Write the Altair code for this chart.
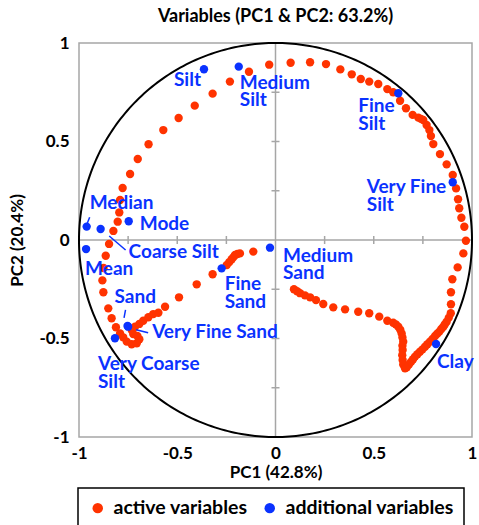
import altair as alt
import numpy as np
import pandas as pd

# Active variables: correlation of each grain-size class with PC1 / PC2
ACTIVE_PC1 = [
    0.094, 0.110, 0.125, 0.150, 0.176, 0.206, 0.243, 0.294, 0.354, 0.421,
    0.477, 0.528, 0.569, 0.599, 0.612, 0.625, 0.635, 0.642, 0.646, 0.650,
    0.646, 0.647, 0.645, 0.647, 0.650, 0.659, 0.668, 0.679, 0.690, 0.700,
    0.710, 0.722, 0.735, 0.748, 0.761, 0.773, 0.786, 0.799, 0.812, 0.823,
    0.834, 0.844, 0.854, 0.862, 0.871, 0.882, 0.892, 0.893, 0.893, 0.900,
    0.927, 0.956, 0.969, 0.961, 0.946, 0.935, 0.929, 0.919, 0.902, 0.871,
    0.837, 0.803, 0.791, 0.783, 0.769, 0.752, 0.740, 0.727, 0.698, 0.664,
    0.634, 0.599, 0.569, 0.523, 0.477, 0.434, 0.388, 0.330, 0.257, 0.176,
    0.077, -0.032, -0.135, -0.232, -0.320, -0.411, -0.493, -0.571, -0.646, -0.701,
    -0.740, -0.778, -0.791, -0.795, -0.803, -0.825, -0.847, -0.864, -0.875, -0.881,
    -0.876, -0.851, -0.834, -0.812, -0.791, -0.775, -0.757, -0.732, -0.706, -0.693,
    -0.703, -0.724, -0.732, -0.715, -0.693, -0.673, -0.647, -0.622, -0.596, -0.562,
    -0.491, -0.401, -0.320, -0.248, -0.235, -0.223, -0.214, -0.206, -0.194, -0.181,
    -0.113,
]
ACTIVE_PC2 = [
    -0.250, -0.260, -0.270, -0.281, -0.291, -0.305, -0.325, -0.342, -0.352, -0.364,
    -0.372, -0.389, -0.410, -0.420, -0.428, -0.440, -0.456, -0.474, -0.495, -0.516,
    -0.537, -0.558, -0.585, -0.609, -0.632, -0.651, -0.646, -0.632, -0.618, -0.605,
    -0.592, -0.580, -0.567, -0.555, -0.542, -0.529, -0.516, -0.502, -0.487, -0.476,
    -0.465, -0.452, -0.440, -0.428, -0.415, -0.394, -0.372, -0.326, -0.265, -0.199,
    -0.139, -0.068, -0.004, 0.067, 0.113, 0.161, 0.207, 0.262, 0.330, 0.384,
    0.436, 0.487, 0.528, 0.558, 0.584, 0.609, 0.615, 0.621, 0.635, 0.669,
    0.707, 0.750, 0.766, 0.792, 0.804, 0.817, 0.841, 0.866, 0.893, 0.902,
    0.900, 0.890, 0.854, 0.804, 0.743, 0.682, 0.619, 0.558, 0.486, 0.411,
    0.335, 0.264, 0.203, 0.140, 0.093, 0.046, -0.020, -0.080, -0.142, -0.205,
    -0.265, -0.347, -0.397, -0.443, -0.474, -0.494, -0.516, -0.529, -0.524, -0.504,
    -0.487, -0.477, -0.457, -0.440, -0.426, -0.410, -0.392, -0.376, -0.369, -0.339,
    -0.291, -0.225, -0.174, -0.127, -0.112, -0.098, -0.087, -0.076, -0.071, -0.068,
    -0.059,
]

# Additional (supplementary) variables
SUPP_NAMES = [
    "Silt", "Medium Silt", "Fine Silt", "Very Fine Silt", "Median", "Coarse Silt",
    "Mode", "Mean", "Sand", "Very Fine Sand", "Very Coarse Silt", "Fine Sand",
    "Medium Sand", "Clay",
]
SUPP_PC1 = [-0.364, -0.187, 0.625, 0.902, -0.961, -0.890, -0.747, -0.964,
            -0.753, -0.750, -0.817, -0.274, -0.028, 0.817]
SUPP_PC2 = [0.867, 0.880, 0.745, 0.293, 0.068, 0.056, 0.095, -0.046,
            -0.436, -0.440, -0.499, -0.144, -0.039, -0.528]

AXIS_VALUES = [-1, -0.5, 0, 0.5, 1]
MINOR_TICKS = [-0.75, -0.5, -0.25, 0.25, 0.5, 0.75]

RED = "#FF3300"
BLUE = "#0A32FF"
GREY = "#A6A6A6"
FONT = "Lato"

# label text (with line breaks) and its pixel offset from the point
LABELS = {
    "Silt": ("Silt", -30, 17),
    "Medium Silt": ("Medium\nSilt", 1, 22),
    "Fine Silt": ("Fine\nSilt", -40, 19),
    "Very Fine Silt": ("Very Fine\nSilt", -86, 11),
    "Median": ("Median", 3, -18),
    "Mode": ("Mode", 11, 9),
    "Coarse Silt": ("Coarse Silt", 28, 29),
    "Mean": ("Mean", -1, 26),
    "Sand": ("Sand", -13, -23),
    "Very Fine Sand": ("Very Fine Sand", 24, 11),
    "Very Coarse Silt": ("Very Coarse\nSilt", -17, 32),
    "Fine Sand": ("Fine\nSand", 3, 22),
    "Medium Sand": ("Medium\nSand", 13, 14),
    "Clay": ("Clay", 1, 24),
}
# short leader lines: (x start, y start, x end, y end) in pixels from the point
LEADERS = {
    "Median": (0.6, -3.4, 3, -9.4),
    "Coarse Silt": (8.6, 7, 25, 21),
    "Sand": (-2, -16, -3.5, -8),
    "Very Fine Sand": (8, 3, 20, 6),
}

active = pd.DataFrame({"pc1": ACTIVE_PC1, "pc2": ACTIVE_PC2, "type": "active variables"})
supp = pd.DataFrame({"name": SUPP_NAMES, "pc1": SUPP_PC1, "pc2": SUPP_PC2,
                     "type": "additional variables"})
points = pd.concat([active, supp[["pc1", "pc2", "type"]]], ignore_index=True)

# unit correlation circle
theta = np.linspace(0, 2 * np.pi, 361)
circle = pd.DataFrame({"pc1": np.cos(theta), "pc2": np.sin(theta), "k": np.arange(361)})

xs = alt.Scale(domain=[-1, 1], nice=False, zero=False)
ys = alt.Scale(domain=[-1, 1], nice=False, zero=False)
label_expr = "'' + datum.value"

x_axis = alt.Axis(values=AXIS_VALUES, title="PC1 (42.8%)", domain=False, ticks=False,
                  grid=False, labelFlush=False, labelOverlap=False, labelExpr=label_expr,
                  labelPadding=8, titlePadding=3)
y_axis = alt.Axis(values=AXIS_VALUES, title="PC2 (20.4%)", domain=False, ticks=False,
                  grid=False, labelFlush=False, labelOverlap=False, labelExpr=label_expr,
                  labelPadding=10, titlePadding=12)

zero_df = pd.DataFrame({"v": [0.0]})
h_line = alt.Chart(zero_df).mark_rule(color=GREY, strokeWidth=1.5).encode(
    y=alt.Y("v:Q", scale=ys, axis=y_axis), x=alt.value(0), x2=alt.value(393))
v_line = alt.Chart(zero_df).mark_rule(color=GREY, strokeWidth=1.5).encode(
    x=alt.X("v:Q", scale=xs, axis=x_axis), y=alt.value(0), y2=alt.value(394))

tick_df = pd.DataFrame({"t": MINOR_TICKS, "z": 0.0})
x_ticks = alt.Chart(tick_df).mark_rule(color=GREY, strokeWidth=1.5,
                                       yOffset=-4, y2Offset=4).encode(
    x=alt.X("t:Q", scale=xs), y=alt.Y("z:Q", scale=ys), y2="z:Q")
y_ticks = alt.Chart(tick_df).mark_rule(color=GREY, strokeWidth=1.5,
                                       xOffset=-4, x2Offset=4).encode(
    y=alt.Y("t:Q", scale=ys), x=alt.X("z:Q", scale=xs), x2="z:Q")

circ = alt.Chart(circle).mark_line(color="black", strokeWidth=2).encode(
    x=alt.X("pc1:Q", scale=xs), y=alt.Y("pc2:Q", scale=ys), order="k:Q")

dots = alt.Chart(points).mark_circle(size=70, opacity=1).encode(
    x=alt.X("pc1:Q", scale=xs),
    y=alt.Y("pc2:Q", scale=ys),
    color=alt.Color(
        "type:N",
        scale=alt.Scale(domain=["active variables", "additional variables"], range=[RED, BLUE]),
        legend=alt.Legend(
            orient="none", legendX=-1, legendY=445, direction="horizontal", title=None,
            strokeColor="black", padding=10, symbolType="circle",
            symbolSize=110, labelFont=FONT, labelFontSize=19.5, labelFontWeight="bold",
            labelColor="black", columnPadding=12, labelOffset=6, labelLimit=400,
        ),
    ),
    order=alt.Order("type:N", sort="ascending"),
)

layers = [h_line, v_line, x_ticks, y_ticks, circ, dots]

for name, (x1, y1, x2, y2) in LEADERS.items():
    d = supp[supp["name"] == name]
    layers.append(
        alt.Chart(d).mark_rule(color=BLUE, strokeWidth=1.5, xOffset=x1, yOffset=y1,
                               x2Offset=x2, y2Offset=y2).encode(
            x=alt.X("pc1:Q", scale=xs), x2="pc1:Q",
            y=alt.Y("pc2:Q", scale=ys), y2="pc2:Q"))

for name, (text, dx, dy) in LABELS.items():
    d = supp[supp["name"] == name].assign(label=text)
    layers.append(
        alt.Chart(d).mark_text(align="left", baseline="alphabetic", dx=dx, dy=dy,
                               font=FONT, fontSize=19, fontWeight="bold", color=BLUE,
                               lineBreak="\n", lineHeight=17.5).encode(
            x=alt.X("pc1:Q", scale=xs), y=alt.Y("pc2:Q", scale=ys), text="label:N"))

chart = alt.layer(*layers).properties(
    width=393, height=394,
    background="white",
    title=alt.TitleParams("Variables (PC1 & PC2: 63.2%)", font=FONT, fontSize=18,
                          fontWeight="bold", color="black", anchor="middle", offset=8),
    autosize=alt.AutoSizeParams(type="none"),
    padding={"left": 79, "top": 43, "right": 7, "bottom": 88},
).configure_view(stroke=GREY, strokeWidth=1.5).configure_axis(
    labelFont=FONT, labelFontSize=17, labelFontWeight="bold", labelColor="black",
    titleFont=FONT, titleFontSize=17, titleFontWeight="bold", titleColor="black",
).configure_legend(strokeWidth=1.5)

chart.save("out.html", embed_options={"renderer": "svg", "actions": False})
